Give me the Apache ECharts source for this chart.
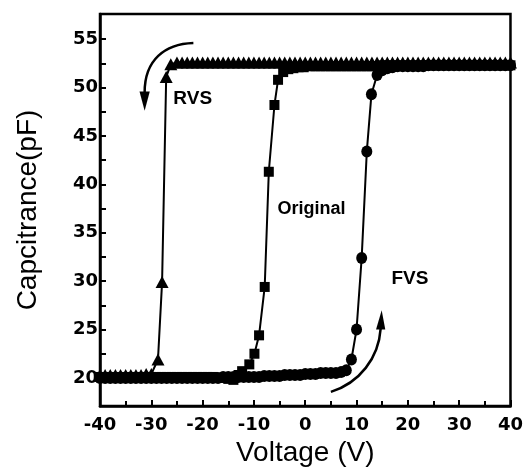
<!DOCTYPE html>
<html>
<head>
<meta charset="utf-8">
<script src="https://cdn.jsdelivr.net/npm/echarts@6/dist/echarts.min.js"></script>
<style>
  html, body { margin: 0; padding: 0; background: #fff; }
  #chart { width: 526px; height: 472px; }
</style>
</head>
<body>
<div id="chart"></div>
<script>
// RVS (triangles)
var rvsVolts = [-40, -39, -38, -37, -36, -35, -34, -33, -32, -31, -30,
  -28.7, -27.9, -27.1, -26.2,
  -25, -24, -23, -22, -21, -20, -19, -18, -17, -16, -15, -14, -13, -12, -11, -10,
  -9, -8, -7, -6, -5, -4, -3, -2, -1, 0, 1, 2, 3, 4, 5, 6, 7, 8, 9, 10,
  11, 12, 13, 14, 15, 16, 17, 18, 19, 20, 21, 22, 23, 24, 25, 26, 27, 28, 29, 30,
  31, 32, 33, 34, 35, 36, 37, 38, 39, 40];
var rvsCap = [20.3, 20.3, 20.3, 20.3, 20.3, 20.3, 20.3, 20.3, 20.3, 20.4, 20.4,
  21.9, 29.9, 51.1, 52.4,
  52.6, 52.6, 52.6, 52.6, 52.6, 52.6, 52.6, 52.6, 52.6, 52.6, 52.6, 52.6, 52.6, 52.6, 52.6, 52.6,
  52.6, 52.6, 52.6, 52.6, 52.6, 52.6, 52.6, 52.6, 52.6, 52.6, 52.6, 52.6, 52.6, 52.6, 52.6, 52.6, 52.6, 52.6, 52.6, 52.6,
  52.6, 52.6, 52.6, 52.6, 52.6, 52.6, 52.6, 52.6, 52.6, 52.6, 52.6, 52.6, 52.6, 52.6, 52.6, 52.6, 52.6, 52.6, 52.6, 52.6,
  52.6, 52.6, 52.6, 52.6, 52.6, 52.6, 52.6, 52.6, 52.6, 52.6];

// Original (squares)
var origVolts = [-40, -39, -38, -37, -36, -35, -34, -33, -32, -31, -30, -29, -28, -27,
  -26, -25, -24, -23, -22, -21, -20, -19, -18, -17, -16, -15, -14, -13,
  -12.3, -10.9, -9.9, -9.0, -7.9, -7.1, -6.0, -5.3, -4.3, -3.3, -2.3, -1.3, -0.3,
  1, 2, 3, 4, 5, 6, 7, 8, 9, 10, 11, 12, 13, 14, 15, 16, 17, 18, 19, 20,
  21, 22, 23, 24, 25, 26, 27, 28, 29, 30, 31, 32, 33, 34, 35, 36, 37, 38, 39, 40];
var origCap = [20.1, 20.1, 20.1, 20.1, 20.1, 20.1, 20.1, 20.1, 20.1, 20.1, 20.1, 20.1, 20.1, 20.1,
  20.1, 20.1, 20.1, 20.1, 20.1, 20.1, 20.1, 20.1, 20.1, 20.0, 20.0, 19.9, 19.8, 20.3,
  20.7, 21.4, 22.5, 24.4, 29.4, 41.3, 48.2, 50.8, 51.6, 51.9, 52.0, 52.1, 52.1,
  52.2, 52.2, 52.2, 52.2, 52.2, 52.2, 52.2, 52.2, 52.2, 52.2, 52.2, 52.2, 52.2, 52.2, 52.3, 52.3, 52.3, 52.3, 52.3, 52.3,
  52.3, 52.3, 52.3, 52.3, 52.3, 52.3, 52.3, 52.3, 52.3, 52.3, 52.3, 52.3, 52.3, 52.3, 52.3, 52.3, 52.3, 52.3, 52.3, 52.3];

// FVS (circles)
var fvsVolts = [-40, -39, -38, -37, -36, -35, -34, -33, -32, -31, -30, -29, -28, -27,
  -26, -25, -24, -23, -22, -21, -20, -19, -18, -17, -16, -15, -14, -13, -12, -11, -10,
  -9, -8, -7, -6, -5, -4, -3, -2, -1, 0, 1, 2, 3, 4, 5, 6, 7, 8,
  9, 10, 11, 12, 12.9, 14,
  15, 16, 17, 18, 19, 20, 21, 22, 23, 24, 25, 26, 27, 28, 29, 30,
  31, 32, 33, 34, 35, 36, 37, 38, 39, 40];
var fvsCap = [20.0, 20.0, 20.0, 20.0, 20.0, 20.0, 20.0, 20.0, 20.0, 20.0, 20.0, 20.0, 20.0, 20.0,
  20.0, 20.0, 20.0, 20.0, 20.0, 20.0, 20.0, 20.0, 20.0, 20.0, 20.1, 20.1, 20.1, 20.1, 20.1, 20.1, 20.1,
  20.1, 20.2, 20.2, 20.2, 20.2, 20.3, 20.3, 20.3, 20.3, 20.4, 20.4, 20.4, 20.5, 20.5, 20.5, 20.5, 20.6, 20.8,
  21.9, 25.0, 32.4, 43.4, 49.3, 51.3,
  51.8, 52.0, 52.1, 52.2, 52.2, 52.2, 52.2, 52.2, 52.2, 52.3, 52.3, 52.3, 52.3, 52.3, 52.3, 52.3,
  52.3, 52.3, 52.3, 52.3, 52.3, 52.3, 52.3, 52.3, 52.3, 52.3];

var yLabelValues = [20, 25, 30, 35, 40, 45, 50, 55];
var yTickValues = [20, 22.5, 25, 27.5, 30, 32.5, 35, 37.5, 40, 42.5, 45, 47.5, 50, 52.5, 55];

function pairs(xs, ys) {
  var out = [];
  for (var i = 0; i < xs.length; i++) out.push([xs[i], ys[i]]);
  return out;
}

var chart = echarts.init(document.getElementById('chart'), null, {renderer: 'canvas'});

var tickFont = {color: '#000', fontFamily: 'DejaVu Sans', fontWeight: 'bold', fontSize: 18};
var titleFont = {color: '#000', fontFamily: 'Liberation Sans', fontSize: 28};

function lineSeries(name, data, symbol, size) {
  return {
    name: name,
    type: 'line',
    data: data,
    symbol: symbol,
    symbolSize: size,
    itemStyle: {color: '#000'},
    lineStyle: {color: '#000', width: 2},
    emphasis: {disabled: true},
    z: 3
  };
}

chart.setOption({
  animation: false,
  backgroundColor: '#fff',
  grid: {left: 100, right: 12, top: 14, bottom: 64, show: true, borderColor: '#000', borderWidth: 2.5},
  xAxis: {
    type: 'value', min: -40, max: 40, interval: 10,
    name: 'Voltage (V)', nameLocation: 'middle', nameGap: 33, nameTextStyle: titleFont,
    axisLine: {onZero: false, lineStyle: {color: '#000', width: 2.5}},
    axisTick: {inside: true, length: 6, lineStyle: {color: '#000', width: 2}},
    minorTick: {show: true, splitNumber: 2, length: 5, lineStyle: {color: '#000', width: 2}},
    splitLine: {show: false},
    axisLabel: Object.assign({margin: 10}, tickFont)
  },
  yAxis: {
    type: 'value', min: 17.1, max: 57.6,
    name: 'Capcitrance(pF)', nameLocation: 'middle', nameGap: 58, nameTextStyle: titleFont,
    axisLine: {show: true, onZero: false, lineStyle: {color: '#000', width: 2.5}},
    axisTick: {inside: true, length: 6, customValues: yTickValues, lineStyle: {color: '#000', width: 2}},
    splitLine: {show: false},
    axisLabel: Object.assign({margin: 2, customValues: yLabelValues}, tickFont)
  },
  series: [
    lineSeries('RVS', pairs(rvsVolts, rvsCap), 'triangle', [13, 12]),
    lineSeries('Original', pairs(origVolts, origCap), 'rect', 10),
    lineSeries('FVS', pairs(fvsVolts, fvsCap), 'circle', [11, 12])
  ]
});

// annotations placed in data coordinates
function px(p) { return chart.convertToPixel({xAxisIndex: 0, yAxisIndex: 0}, p); }

function arrow(p0, c1, c2, p3, head) {
  var a = px(p0), b = px(c1), c = px(c2), d = px(p3);
  return [{
    type: 'bezierCurve',
    shape: {x1: a[0], y1: a[1], cpx1: b[0], cpy1: b[1], cpx2: c[0], cpy2: c[1], x2: d[0], y2: d[1]},
    style: {stroke: '#000', lineWidth: 2.5, fill: null},
    z: 10
  }, {
    type: 'polygon',
    shape: {points: head.map(px)},
    style: {fill: '#000'},
    z: 10
  }];
}

function label(text, p, size) {
  var q = px(p);
  return {
    type: 'text', x: q[0], y: q[1], z: 10,
    style: {text: text, fill: '#000', font: 'bold ' + size + 'px "Liberation Sans"', verticalAlign: 'middle', align: 'left'}
  };
}

var elements = []
  .concat(arrow([-21.8, 54.6], [-27.4, 54.5], [-31.3, 52.85], [-31.3, 49.5],
    [[-32.3, 49.6], [-30.3, 49.6], [-31.3, 47.6]]))
  .concat(arrow([5.0, 18.56], [10.6, 19.5], [14.3, 22.05], [14.7, 25.1],
    [[13.8, 25.0], [15.6, 25.0], [14.9, 27.0]]))
  .concat([
    label('RVS', [-25.7, 48.85], 19),
    label('Original', [-5.4, 37.45], 18),
    label('FVS', [16.8, 30.2], 19)
  ]);

chart.setOption({graphic: {elements: elements}});
</script>
</body>
</html>
